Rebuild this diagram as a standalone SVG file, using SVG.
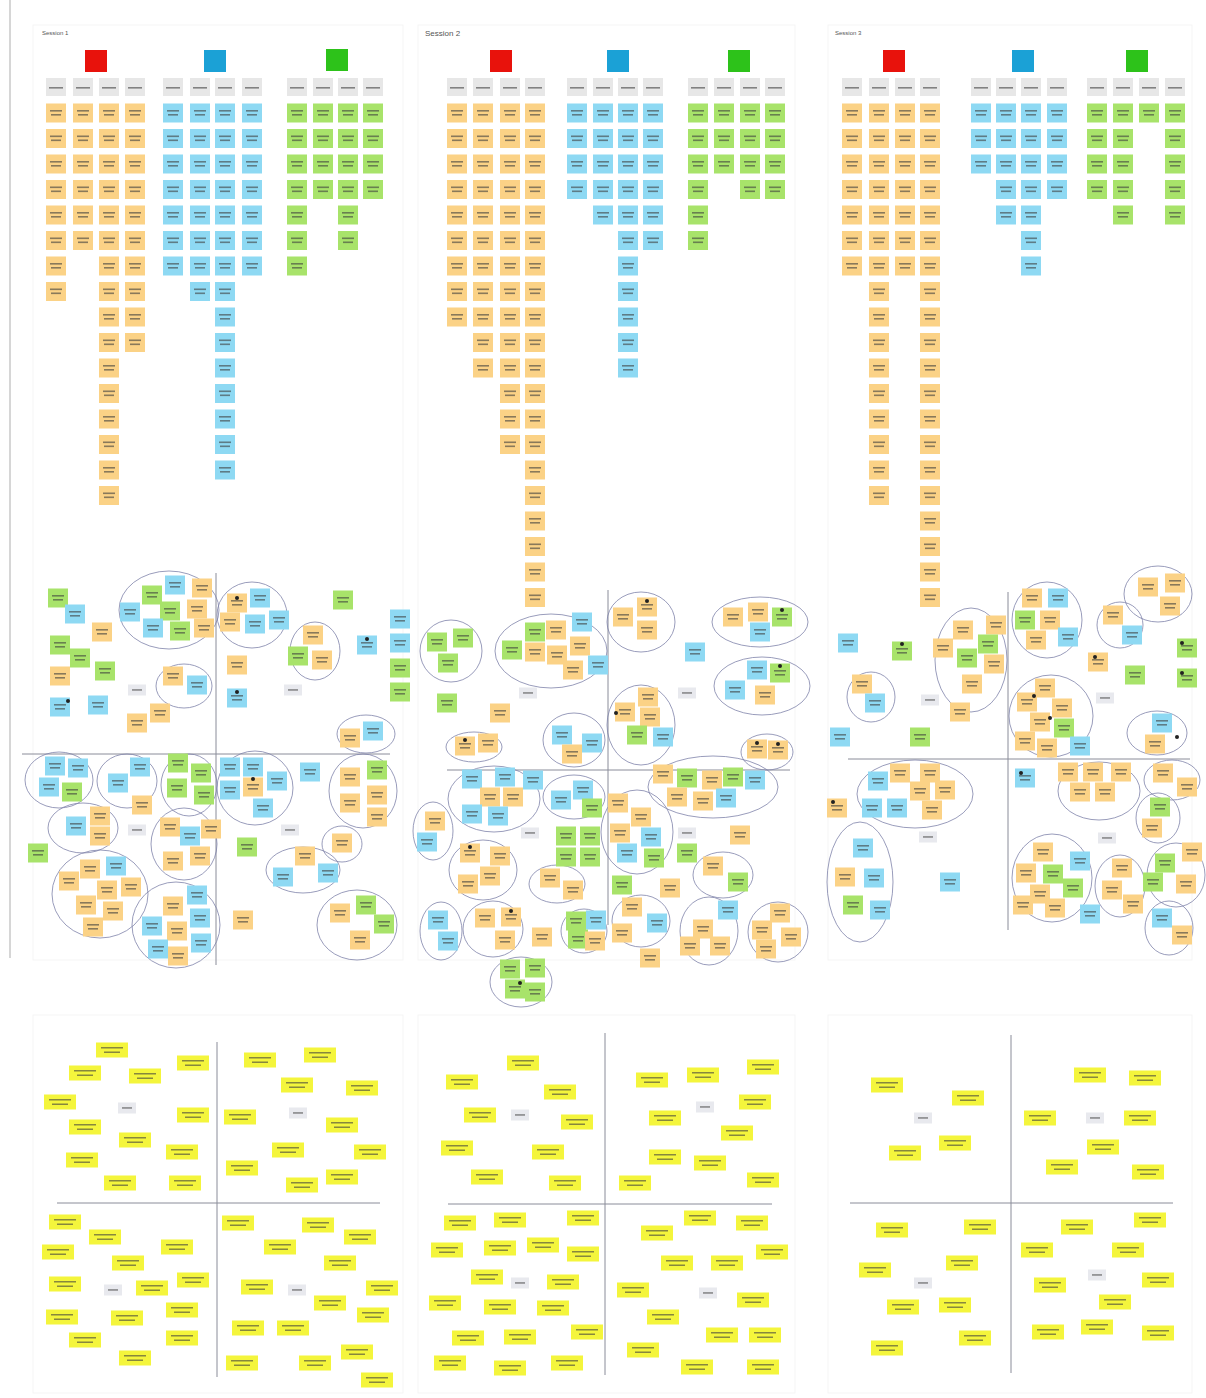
<svg xmlns="http://www.w3.org/2000/svg" xmlns:xlink="http://www.w3.org/1999/xlink" width="1206" height="1398" viewBox="0 0 1206 1398">
<style>
.t{fill:#3d3d3d;opacity:.6}
.ax{stroke:#8a8c99;stroke-width:1}
.cl{fill:none;stroke:#7f83aa;stroke-width:.8}
.d{fill:#222}
.fr{fill:none;stroke:#f5f5f5;stroke-width:1}
.ttl{font-family:"Liberation Sans",Arial,sans-serif;fill:#555}
</style>
<defs>
<g id="o"><rect x="-10" y="-9.5" width="20" height="19" fill="#FBD286"/><rect class="t" x="-6" y="-3" width="12" height="1.6"/><rect class="t" x="-5" y="1" width="10" height="1.6"/></g>
<g id="b"><rect x="-10" y="-9.5" width="20" height="19" fill="#8ED9F3"/><rect class="t" x="-6" y="-3" width="12" height="1.6"/><rect class="t" x="-5" y="1" width="10" height="1.6"/></g>
<g id="g"><rect x="-10" y="-9.5" width="20" height="19" fill="#A8E36A"/><rect class="t" x="-6" y="-3" width="12" height="1.6"/><rect class="t" x="-5" y="1" width="10" height="1.6"/></g>
<g id="y"><rect x="-16" y="-7.5" width="32" height="15" fill="#F4F53C"/><rect class="t" x="-11" y="-3" width="22" height="1.5"/><rect class="t" x="-8" y="1.5" width="16" height="1.5"/></g>
<g id="l"><rect x="-9" y="-5.5" width="18" height="11" fill="#E8E9EE"/><rect class="t" x="-5" y="-.8" width="10" height="1.5"/></g>
<g id="h"><rect x="-10" y="-9" width="20" height="18" fill="#E7E7E7"/><rect class="t" x="-7" y="0" width="14" height="1.6"/></g>
</defs>
<rect width="1206" height="1398" fill="#fff"/>
<line x1="10" y1="0" x2="10" y2="958" stroke="#d6d6d6" stroke-width="2"/>
<g id="frames">
<rect class="fr" x="33" y="25" width="370" height="935"/>
<rect class="fr" x="418" y="25" width="377" height="935"/>
<rect class="fr" x="828" y="25" width="364" height="935"/>
<rect class="fr" x="33" y="1015" width="370" height="378"/>
<rect class="fr" x="418" y="1015" width="377" height="378"/>
<rect class="fr" x="828" y="1015" width="364" height="378"/>
</g>
<g id="titles">
<text class="ttl" x="42" y="35" font-size="6">Session 1</text>
<text class="ttl" x="425" y="36" font-size="8">Session 2</text>
<text class="ttl" x="835" y="35" font-size="6">Session 3</text>
</g>

<!-- ============ TOP GRIDS ============ -->
<g id="p1-top">
<rect x="85" y="50" width="22" height="22" fill="#E8120C"/>
<rect x="204" y="50" width="22" height="22" fill="#1BA1D6"/>
<rect x="326" y="49" width="22" height="22" fill="#2DC21A"/>
<g id="p1-hdr"><use href="#h" x="56" y="87"/><use href="#h" x="83" y="87"/><use href="#h" x="109" y="87"/><use href="#h" x="135" y="87"/><use href="#h" x="173" y="87"/><use href="#h" x="200" y="87"/><use href="#h" x="225" y="87"/><use href="#h" x="252" y="87"/><use href="#h" x="297" y="87"/><use href="#h" x="323" y="87"/><use href="#h" x="348" y="87"/><use href="#h" x="373" y="87"/></g>
<g id="p1-o1" transform="translate(56 0)"><use href="#o" y="113"/><use href="#o" y="138.5"/><use href="#o" y="164"/><use href="#o" y="189.5"/><use href="#o" y="215"/><use href="#o" y="240.5"/><use href="#o" y="266"/><use href="#o" y="291.5"/></g>
<g id="p1-o2" transform="translate(83 0)"><use href="#o" y="113"/><use href="#o" y="138.5"/><use href="#o" y="164"/><use href="#o" y="189.5"/><use href="#o" y="215"/><use href="#o" y="240.5"/></g>
<g id="p1-o3" transform="translate(109 0)"><use href="#o" y="113"/><use href="#o" y="138.5"/><use href="#o" y="164"/><use href="#o" y="189.5"/><use href="#o" y="215"/><use href="#o" y="240.5"/><use href="#o" y="266"/><use href="#o" y="291.5"/><use href="#o" y="317"/><use href="#o" y="342.5"/><use href="#o" y="368"/><use href="#o" y="393.5"/><use href="#o" y="419"/><use href="#o" y="444.5"/><use href="#o" y="470"/><use href="#o" y="495.5"/></g>
<g id="p1-o4" transform="translate(135 0)"><use href="#o" y="113"/><use href="#o" y="138.5"/><use href="#o" y="164"/><use href="#o" y="189.5"/><use href="#o" y="215"/><use href="#o" y="240.5"/><use href="#o" y="266"/><use href="#o" y="291.5"/><use href="#o" y="317"/><use href="#o" y="342.5"/></g>
<g id="p1-b1" transform="translate(173 0)"><use href="#b" y="113"/><use href="#b" y="138.5"/><use href="#b" y="164"/><use href="#b" y="189.5"/><use href="#b" y="215"/><use href="#b" y="240.5"/><use href="#b" y="266"/></g>
<g id="p1-b2" transform="translate(200 0)"><use href="#b" y="113"/><use href="#b" y="138.5"/><use href="#b" y="164"/><use href="#b" y="189.5"/><use href="#b" y="215"/><use href="#b" y="240.5"/><use href="#b" y="266"/><use href="#b" y="291.5"/></g>
<g id="p1-b3" transform="translate(225 0)"><use href="#b" y="113"/><use href="#b" y="138.5"/><use href="#b" y="164"/><use href="#b" y="189.5"/><use href="#b" y="215"/><use href="#b" y="240.5"/><use href="#b" y="266"/><use href="#b" y="291.5"/><use href="#b" y="317"/><use href="#b" y="342.5"/><use href="#b" y="368"/><use href="#b" y="393.5"/><use href="#b" y="419"/><use href="#b" y="444.5"/><use href="#b" y="470"/></g>
<g id="p1-b4" transform="translate(252 0)"><use href="#b" y="113"/><use href="#b" y="138.5"/><use href="#b" y="164"/><use href="#b" y="189.5"/><use href="#b" y="215"/><use href="#b" y="240.5"/><use href="#b" y="266"/></g>
<g id="p1-g1" transform="translate(297 0)"><use href="#g" y="113"/><use href="#g" y="138.5"/><use href="#g" y="164"/><use href="#g" y="189.5"/><use href="#g" y="215"/><use href="#g" y="240.5"/><use href="#g" y="266"/></g>
<g id="p1-g2" transform="translate(323 0)"><use href="#g" y="113"/><use href="#g" y="138.5"/><use href="#g" y="164"/><use href="#g" y="189.5"/></g>
<g id="p1-g3" transform="translate(348 0)"><use href="#g" y="113"/><use href="#g" y="138.5"/><use href="#g" y="164"/><use href="#g" y="189.5"/><use href="#g" y="215"/><use href="#g" y="240.5"/></g>
<g id="p1-g4" transform="translate(373 0)"><use href="#g" y="113"/><use href="#g" y="138.5"/><use href="#g" y="164"/><use href="#g" y="189.5"/></g>
</g>

<g id="p2-top">
<rect x="490" y="50" width="22" height="22" fill="#E8120C"/>
<rect x="607" y="50" width="22" height="22" fill="#1BA1D6"/>
<rect x="728" y="50" width="22" height="22" fill="#2DC21A"/>
<g id="p2-hdr"><use href="#h" x="457" y="87"/><use href="#h" x="483" y="87"/><use href="#h" x="510" y="87"/><use href="#h" x="535" y="87"/><use href="#h" x="577" y="87"/><use href="#h" x="603" y="87"/><use href="#h" x="628" y="87"/><use href="#h" x="653" y="87"/><use href="#h" x="698" y="87"/><use href="#h" x="724" y="87"/><use href="#h" x="750" y="87"/><use href="#h" x="775" y="87"/></g>
<g id="p2-o1" transform="translate(457 0)"><use href="#o" y="113"/><use href="#o" y="138.5"/><use href="#o" y="164"/><use href="#o" y="189.5"/><use href="#o" y="215"/><use href="#o" y="240.5"/><use href="#o" y="266"/><use href="#o" y="291.5"/><use href="#o" y="317"/></g>
<g id="p2-o2" transform="translate(483 0)"><use href="#o" y="113"/><use href="#o" y="138.5"/><use href="#o" y="164"/><use href="#o" y="189.5"/><use href="#o" y="215"/><use href="#o" y="240.5"/><use href="#o" y="266"/><use href="#o" y="291.5"/><use href="#o" y="317"/><use href="#o" y="342.5"/><use href="#o" y="368"/></g>
<g id="p2-o3" transform="translate(510 0)"><use href="#o" y="113"/><use href="#o" y="138.5"/><use href="#o" y="164"/><use href="#o" y="189.5"/><use href="#o" y="215"/><use href="#o" y="240.5"/><use href="#o" y="266"/><use href="#o" y="291.5"/><use href="#o" y="317"/><use href="#o" y="342.5"/><use href="#o" y="368"/><use href="#o" y="393.5"/><use href="#o" y="419"/><use href="#o" y="444.5"/></g>
<g id="p2-o4" transform="translate(535 0)"><use href="#o" y="113"/><use href="#o" y="138.5"/><use href="#o" y="164"/><use href="#o" y="189.5"/><use href="#o" y="215"/><use href="#o" y="240.5"/><use href="#o" y="266"/><use href="#o" y="291.5"/><use href="#o" y="317"/><use href="#o" y="342.5"/><use href="#o" y="368"/><use href="#o" y="393.5"/><use href="#o" y="419"/><use href="#o" y="444.5"/><use href="#o" y="470"/><use href="#o" y="495.5"/><use href="#o" y="521"/><use href="#o" y="546.5"/><use href="#o" y="572"/><use href="#o" y="597.5"/></g>
<g id="p2-b1" transform="translate(577 0)"><use href="#b" y="113"/><use href="#b" y="138.5"/><use href="#b" y="164"/><use href="#b" y="189.5"/></g>
<g id="p2-b2" transform="translate(603 0)"><use href="#b" y="113"/><use href="#b" y="138.5"/><use href="#b" y="164"/><use href="#b" y="189.5"/><use href="#b" y="215"/></g>
<g id="p2-b3" transform="translate(628 0)"><use href="#b" y="113"/><use href="#b" y="138.5"/><use href="#b" y="164"/><use href="#b" y="189.5"/><use href="#b" y="215"/><use href="#b" y="240.5"/><use href="#b" y="266"/><use href="#b" y="291.5"/><use href="#b" y="317"/><use href="#b" y="342.5"/><use href="#b" y="368"/></g>
<g id="p2-b4" transform="translate(653 0)"><use href="#b" y="113"/><use href="#b" y="138.5"/><use href="#b" y="164"/><use href="#b" y="189.5"/><use href="#b" y="215"/><use href="#b" y="240.5"/></g>
<g id="p2-g1" transform="translate(698 0)"><use href="#g" y="113"/><use href="#g" y="138.5"/><use href="#g" y="164"/><use href="#g" y="189.5"/><use href="#g" y="215"/><use href="#g" y="240.5"/></g>
<g id="p2-g2" transform="translate(724 0)"><use href="#g" y="113"/><use href="#g" y="138.5"/><use href="#g" y="164"/></g>
<g id="p2-g3" transform="translate(750 0)"><use href="#g" y="113"/><use href="#g" y="138.5"/><use href="#g" y="164"/><use href="#g" y="189.5"/></g>
<g id="p2-g4" transform="translate(775 0)"><use href="#g" y="113"/><use href="#g" y="138.5"/><use href="#g" y="164"/><use href="#g" y="189.5"/></g>
</g>

<g id="p3-top">
<rect x="883" y="50" width="22" height="22" fill="#E8120C"/>
<rect x="1012" y="50" width="22" height="22" fill="#1BA1D6"/>
<rect x="1126" y="50" width="22" height="22" fill="#2DC21A"/>
<g id="p3-hdr"><use href="#h" x="852" y="87"/><use href="#h" x="879" y="87"/><use href="#h" x="905" y="87"/><use href="#h" x="930" y="87"/><use href="#h" x="981" y="87"/><use href="#h" x="1006" y="87"/><use href="#h" x="1031" y="87"/><use href="#h" x="1057" y="87"/><use href="#h" x="1097" y="87"/><use href="#h" x="1123" y="87"/><use href="#h" x="1149" y="87"/><use href="#h" x="1175" y="87"/></g>
<g id="p3-o1" transform="translate(852 0)"><use href="#o" y="113"/><use href="#o" y="138.5"/><use href="#o" y="164"/><use href="#o" y="189.5"/><use href="#o" y="215"/><use href="#o" y="240.5"/><use href="#o" y="266"/></g>
<g id="p3-o2" transform="translate(879 0)"><use href="#o" y="113"/><use href="#o" y="138.5"/><use href="#o" y="164"/><use href="#o" y="189.5"/><use href="#o" y="215"/><use href="#o" y="240.5"/><use href="#o" y="266"/><use href="#o" y="291.5"/><use href="#o" y="317"/><use href="#o" y="342.5"/><use href="#o" y="368"/><use href="#o" y="393.5"/><use href="#o" y="419"/><use href="#o" y="444.5"/><use href="#o" y="470"/><use href="#o" y="495.5"/></g>
<g id="p3-o3" transform="translate(905 0)"><use href="#o" y="113"/><use href="#o" y="138.5"/><use href="#o" y="164"/><use href="#o" y="189.5"/><use href="#o" y="215"/><use href="#o" y="240.5"/><use href="#o" y="266"/></g>
<g id="p3-o4" transform="translate(930 0)"><use href="#o" y="113"/><use href="#o" y="138.5"/><use href="#o" y="164"/><use href="#o" y="189.5"/><use href="#o" y="215"/><use href="#o" y="240.5"/><use href="#o" y="266"/><use href="#o" y="291.5"/><use href="#o" y="317"/><use href="#o" y="342.5"/><use href="#o" y="368"/><use href="#o" y="393.5"/><use href="#o" y="419"/><use href="#o" y="444.5"/><use href="#o" y="470"/><use href="#o" y="495.5"/><use href="#o" y="521"/><use href="#o" y="546.5"/><use href="#o" y="572"/><use href="#o" y="597.5"/></g>
<g id="p3-b1" transform="translate(981 0)"><use href="#b" y="113"/><use href="#b" y="138.5"/><use href="#b" y="164"/></g>
<g id="p3-b2" transform="translate(1006 0)"><use href="#b" y="113"/><use href="#b" y="138.5"/><use href="#b" y="164"/><use href="#b" y="189.5"/><use href="#b" y="215"/></g>
<g id="p3-b3" transform="translate(1031 0)"><use href="#b" y="113"/><use href="#b" y="138.5"/><use href="#b" y="164"/><use href="#b" y="189.5"/><use href="#b" y="215"/><use href="#b" y="240.5"/><use href="#b" y="266"/></g>
<g id="p3-b4" transform="translate(1057 0)"><use href="#b" y="113"/><use href="#b" y="138.5"/><use href="#b" y="164"/><use href="#b" y="189.5"/></g>
<g id="p3-g1" transform="translate(1097 0)"><use href="#g" y="113"/><use href="#g" y="138.5"/><use href="#g" y="164"/><use href="#g" y="189.5"/></g>
<g id="p3-g2" transform="translate(1123 0)"><use href="#g" y="113"/><use href="#g" y="138.5"/><use href="#g" y="164"/><use href="#g" y="189.5"/><use href="#g" y="215"/></g>
<g id="p3-g3" transform="translate(1149 0)"><use href="#g" y="113"/></g>
<g id="p3-g4" transform="translate(1175 0)"><use href="#g" y="113"/><use href="#g" y="138.5"/><use href="#g" y="164"/><use href="#g" y="189.5"/><use href="#g" y="215"/></g>
</g>

<!-- ============ AXES ============ -->
<g id="axes" class="ax">
<line x1="22" y1="754" x2="390" y2="754"/><line x1="216" y1="573" x2="216" y2="965"/>
<line x1="447" y1="770" x2="790" y2="770"/><line x1="608" y1="590" x2="608" y2="925"/>
<line x1="848" y1="759" x2="1190" y2="759"/><line x1="1008" y1="592" x2="1008" y2="930"/>
<line x1="57" y1="1203" x2="380" y2="1203"/><line x1="217" y1="1042" x2="217" y2="1377"/>
<line x1="448" y1="1204" x2="772" y2="1204"/><line x1="605" y1="1033" x2="605" y2="1375"/>
<line x1="850" y1="1203" x2="1173" y2="1203"/><line x1="1011" y1="1035" x2="1011" y2="1373"/>
</g>

<!-- ============ PANEL 1 MIDDLE ============ -->
<g id="p1-mid">
<g id="p1-c1"><ellipse class="cl" cx="169" cy="610" rx="50" ry="39"/><use href="#b" x="175" y="585"/><use href="#o" x="202" y="588"/><use href="#g" x="152" y="595"/><use href="#b" x="130" y="612"/><use href="#g" x="170" y="611"/><use href="#o" x="197" y="609"/><use href="#b" x="153" y="628"/><use href="#g" x="180" y="631"/><use href="#o" x="204" y="628"/></g>
<g id="p1-c2"><ellipse class="cl" cx="252" cy="615" rx="35" ry="33"/><use href="#o" x="237" y="603"/><circle class="d" cx="237" cy="598" r="2"/><use href="#b" x="260" y="598"/><use href="#o" x="230" y="622"/><use href="#b" x="255" y="624"/><use href="#b" x="279" y="620"/></g>
<g id="p1-c3"><ellipse class="cl" cx="315" cy="651" rx="25" ry="29"/><use href="#o" x="313" y="635"/><use href="#g" x="298" y="656"/><use href="#o" x="322" y="660"/></g>
<g id="p1-c4"><ellipse class="cl" cx="184" cy="686" rx="28" ry="22"/><use href="#o" x="173" y="676"/><use href="#b" x="197" y="685"/></g>
<g id="p1-c5"><ellipse class="cl" cx="366" cy="734" rx="29" ry="19"/><use href="#o" x="350" y="738"/><use href="#b" x="373" y="731"/></g>
<g id="p1-c6"><ellipse class="cl" cx="59" cy="780" rx="34" ry="28"/><use href="#b" x="55" y="766"/><use href="#b" x="78" y="768"/><use href="#b" x="49" y="787"/><use href="#g" x="72" y="792"/></g>
<g id="p1-c7"><ellipse class="cl" cx="127" cy="781" rx="30" ry="27"/><use href="#b" x="140" y="767"/><use href="#b" x="118" y="783"/></g>
<g id="p1-c8"><ellipse class="cl" cx="189" cy="785" rx="28" ry="31"/><use href="#g" x="178" y="763"/><use href="#g" x="201" y="773"/><use href="#g" x="177" y="788"/><use href="#g" x="204" y="795"/></g>
<g id="p1-c9"><ellipse class="cl" cx="255" cy="788" rx="38" ry="37"/><use href="#b" x="230" y="767"/><use href="#b" x="253" y="767"/><use href="#o" x="253" y="787"/><circle class="d" cx="253" cy="779" r="2"/><use href="#b" x="277" y="781"/><use href="#b" x="230" y="790"/><use href="#b" x="263" y="808"/></g>
<g id="p1-c10"><ellipse class="cl" cx="363" cy="791" rx="34" ry="37"/><use href="#o" x="350" y="777"/><use href="#g" x="377" y="770"/><use href="#o" x="350" y="803"/><use href="#o" x="377" y="795"/><use href="#o" x="377" y="817"/></g>
<g id="p1-c11"><ellipse class="cl" cx="83" cy="828" rx="35" ry="25"/><use href="#b" x="76" y="826"/><use href="#o" x="100" y="816"/><use href="#o" x="100" y="836"/></g>
<g id="p1-c12"><ellipse class="cl" cx="184" cy="844" rx="33" ry="36"/><use href="#o" x="170" y="827"/><use href="#b" x="190" y="836"/><use href="#o" x="211" y="829"/><use href="#o" x="173" y="861"/><use href="#o" x="200" y="856"/></g>
<g id="p1-c13"><ellipse class="cl" cx="342" cy="844" rx="20" ry="18"/><use href="#o" x="342" y="843"/></g>
<g id="p1-c14"><ellipse class="cl" cx="303" cy="870" rx="37" ry="23"/><use href="#o" x="305" y="856"/><use href="#b" x="283" y="877"/><use href="#b" x="328" y="873"/></g>
<g id="p1-c15"><ellipse class="cl" cx="100" cy="894" rx="48" ry="44"/><use href="#o" x="90" y="869"/><use href="#b" x="116" y="866"/><use href="#o" x="69" y="881"/><use href="#o" x="107" y="890"/><use href="#o" x="131" y="887"/><use href="#o" x="86" y="905"/><use href="#o" x="113" y="911"/><use href="#o" x="93" y="927"/></g>
<g id="p1-c16"><ellipse class="cl" cx="176" cy="925" rx="44" ry="43"/><use href="#b" x="197" y="895"/><use href="#o" x="173" y="906"/><use href="#b" x="200" y="918"/><use href="#b" x="152" y="926"/><use href="#o" x="177" y="931"/><use href="#b" x="158" y="949"/><use href="#o" x="178" y="956"/><use href="#b" x="201" y="943"/></g>
<g id="p1-c17"><ellipse class="cl" cx="357" cy="925" rx="40" ry="35"/><use href="#o" x="340" y="913"/><use href="#g" x="366" y="905"/><use href="#g" x="384" y="924"/><use href="#o" x="360" y="940"/></g>
<g id="p1-loose"><use href="#g" x="58" y="598"/><use href="#b" x="75" y="614"/><use href="#o" x="102" y="632"/><use href="#g" x="60" y="645"/><use href="#g" x="80" y="658"/><use href="#g" x="105" y="671"/><use href="#o" x="60" y="676"/><use href="#b" x="60" y="707"/><circle class="d" cx="68" cy="701" r="2"/><use href="#b" x="98" y="705"/><use href="#l" x="137" y="690"/><use href="#o" x="137" y="723"/><use href="#o" x="160" y="713"/><use href="#o" x="237" y="665"/><use href="#b" x="237" y="698"/><circle class="d" cx="237" cy="692" r="2"/><use href="#l" x="293" y="690"/><use href="#g" x="343" y="600"/><use href="#b" x="367" y="645"/><circle class="d" cx="367" cy="639" r="2"/><use href="#b" x="400" y="619"/><use href="#b" x="400" y="643"/><use href="#g" x="400" y="668"/><use href="#g" x="400" y="692"/><use href="#g" x="38" y="853"/><use href="#l" x="137" y="830"/><use href="#g" x="247" y="847"/><use href="#l" x="290" y="830"/><use href="#o" x="243" y="920"/><use href="#o" x="142" y="805"/><use href="#b" x="310" y="772"/></g>
</g>

<!-- ============ PANEL 2 MIDDLE ============ -->
<g id="p2-mid">
<g id="p2-c1"><ellipse class="cl" cx="451" cy="651" rx="31" ry="31"/><use href="#g" x="437" y="642"/><use href="#g" x="463" y="638"/><use href="#g" x="448" y="663"/></g>
<g id="p2-c2"><ellipse class="cl" cx="551" cy="651" rx="56" ry="37"/><use href="#g" x="535" y="632"/><use href="#o" x="556" y="630"/><use href="#b" x="582" y="622"/><use href="#g" x="512" y="650"/><use href="#o" x="535" y="652"/><use href="#o" x="557" y="655"/><use href="#o" x="580" y="646"/><use href="#o" x="573" y="670"/><use href="#b" x="598" y="665"/></g>
<g id="p2-c3"><ellipse class="cl" cx="641" cy="622" rx="34" ry="30"/><use href="#o" x="623" y="617"/><use href="#o" x="647" y="607"/><circle class="d" cx="647" cy="601" r="2"/><use href="#o" x="647" y="630"/></g>
<g id="p2-c4"><ellipse class="cl" cx="760" cy="622" rx="48" ry="25"/><use href="#o" x="733" y="617"/><use href="#o" x="758" y="612"/><use href="#g" x="782" y="617"/><circle class="d" cx="782" cy="610" r="2"/><use href="#b" x="760" y="632"/></g>
<g id="p2-c5"><ellipse class="cl" cx="762" cy="686" rx="48" ry="29"/><use href="#b" x="757" y="670"/><use href="#g" x="780" y="673"/><circle class="d" cx="780" cy="666" r="2"/><use href="#b" x="735" y="690"/><use href="#o" x="765" y="695"/></g>
<g id="p2-c6"><ellipse class="cl" cx="641" cy="725" rx="34" ry="40"/><use href="#o" x="648" y="697"/><use href="#o" x="625" y="712"/><circle class="d" cx="616" cy="713" r="2"/><use href="#o" x="650" y="717"/><use href="#g" x="637" y="735"/><use href="#b" x="663" y="737"/></g>
<g id="p2-c7"><ellipse class="cl" cx="574" cy="740" rx="31" ry="27"/><use href="#b" x="562" y="735"/><use href="#b" x="592" y="743"/><use href="#o" x="572" y="754"/></g>
<g id="p2-c8"><ellipse class="cl" cx="474" cy="747" rx="28" ry="15"/><use href="#o" x="465" y="746"/><circle class="d" cx="465" cy="740" r="2"/><use href="#o" x="488" y="743"/></g>
<g id="p2-c9"><ellipse class="cl" cx="767" cy="752" rx="26" ry="18"/><use href="#o" x="757" y="749"/><circle class="d" cx="757" cy="743" r="2"/><use href="#o" x="778" y="750"/><circle class="d" cx="778" cy="744" r="2"/></g>
<g id="p2-c10"><ellipse class="cl" cx="713" cy="787" rx="65" ry="31"/><use href="#o" x="663" y="774"/><use href="#g" x="687" y="778"/><use href="#o" x="712" y="780"/><use href="#g" x="733" y="777"/><use href="#b" x="755" y="780"/><use href="#o" x="677" y="797"/><use href="#o" x="703" y="801"/><use href="#b" x="726" y="798"/></g>
<g id="p2-c11"><ellipse class="cl" cx="494" cy="799" rx="46" ry="33"/><use href="#b" x="472" y="779"/><use href="#b" x="505" y="777"/><use href="#b" x="533" y="780"/><use href="#o" x="490" y="797"/><use href="#o" x="513" y="797"/><use href="#b" x="472" y="814"/><use href="#b" x="498" y="816"/></g>
<g id="p2-c12"><ellipse class="cl" cx="574" cy="797" rx="31" ry="22"/><use href="#b" x="583" y="790"/><use href="#b" x="561" y="800"/><use href="#g" x="592" y="808"/></g>
<g id="p2-c13"><ellipse class="cl" cx="433" cy="831" rx="20" ry="29"/><use href="#o" x="435" y="821"/><use href="#b" x="427" y="842"/></g>
<g id="p2-c14"><ellipse class="cl" cx="637" cy="832" rx="36" ry="42"/><use href="#o" x="618" y="803"/><use href="#o" x="641" y="817"/><use href="#o" x="620" y="833"/><use href="#b" x="651" y="837"/><use href="#b" x="627" y="853"/><use href="#g" x="654" y="858"/></g>
<g id="p2-c15"><ellipse class="cl" cx="483" cy="870" rx="34" ry="30"/><use href="#o" x="470" y="853"/><circle class="d" cx="470" cy="847" r="2"/><use href="#o" x="500" y="856"/><use href="#o" x="490" y="876"/><use href="#o" x="468" y="884"/></g>
<g id="p2-c16"><ellipse class="cl" cx="557" cy="884" rx="28" ry="19"/><use href="#o" x="550" y="878"/><use href="#o" x="573" y="890"/></g>
<g id="p2-c17"><ellipse class="cl" cx="723" cy="875" rx="30" ry="23"/><use href="#o" x="713" y="866"/><use href="#g" x="738" y="882"/></g>
<g id="p2-c18"><ellipse class="cl" cx="441" cy="931" rx="21" ry="29"/><use href="#b" x="438" y="920"/><use href="#b" x="448" y="941"/></g>
<g id="p2-c19"><ellipse class="cl" cx="493" cy="929" rx="30" ry="28"/><use href="#o" x="485" y="918"/><use href="#o" x="511" y="917"/><circle class="d" cx="511" cy="911" r="2"/><use href="#o" x="505" y="940"/></g>
<g id="p2-c20"><ellipse class="cl" cx="584" cy="931" rx="23" ry="22"/><use href="#g" x="576" y="921"/><use href="#b" x="596" y="920"/><use href="#g" x="578" y="939"/><use href="#o" x="595" y="941"/></g>
<g id="p2-c21"><ellipse class="cl" cx="641" cy="921" rx="29" ry="26"/><use href="#o" x="632" y="907"/><use href="#b" x="657" y="923"/><use href="#o" x="622" y="933"/></g>
<g id="p2-c22"><ellipse class="cl" cx="709" cy="931" rx="29" ry="34"/><use href="#b" x="728" y="910"/><use href="#o" x="703" y="929"/><use href="#o" x="690" y="946"/><use href="#o" x="720" y="946"/></g>
<g id="p2-c23"><ellipse class="cl" cx="778" cy="932" rx="30" ry="30"/><use href="#o" x="780" y="913"/><use href="#o" x="762" y="930"/><use href="#o" x="791" y="937"/><use href="#o" x="766" y="949"/></g>
<g id="p2-c24"><ellipse class="cl" cx="521" cy="982" rx="31" ry="25"/><use href="#g" x="510" y="969"/><use href="#g" x="535" y="968"/><use href="#g" x="515" y="989"/><circle class="d" cx="520" cy="983" r="2"/><use href="#g" x="535" y="992"/></g>
<g id="p2-loose"><use href="#g" x="447" y="703"/><use href="#l" x="528" y="693"/><use href="#o" x="500" y="713"/><use href="#b" x="695" y="652"/><use href="#l" x="687" y="693"/><use href="#l" x="530" y="833"/><use href="#l" x="687" y="833"/><use href="#g" x="566" y="836"/><use href="#g" x="590" y="836"/><use href="#g" x="566" y="857"/><use href="#g" x="590" y="857"/><use href="#o" x="740" y="835"/><use href="#g" x="687" y="853"/><use href="#g" x="622" y="885"/><use href="#o" x="670" y="888"/><use href="#o" x="542" y="937"/><use href="#o" x="650" y="958"/></g>
</g>

<!-- ============ PANEL 3 MIDDLE ============ -->
<g id="p3-mid">
<g id="p3-c1"><ellipse class="cl" cx="1047" cy="620" rx="35" ry="38"/><use href="#o" x="1032" y="598"/><use href="#b" x="1058" y="598"/><use href="#g" x="1025" y="620"/><use href="#o" x="1050" y="620"/><use href="#o" x="1036" y="640"/><use href="#b" x="1068" y="637"/></g>
<g id="p3-c2"><ellipse class="cl" cx="1158" cy="594" rx="34" ry="28"/><use href="#o" x="1148" y="587"/><use href="#o" x="1175" y="583"/><use href="#o" x="1170" y="606"/></g>
<g id="p3-c3"><ellipse class="cl" cx="1120" cy="625" rx="23" ry="23"/><use href="#o" x="1113" y="615"/><use href="#b" x="1132" y="635"/></g>
<g id="p3-c4"><ellipse class="cl" cx="971" cy="660" rx="36" ry="52"/><use href="#o" x="963" y="630"/><use href="#o" x="996" y="625"/><use href="#o" x="943" y="648"/><use href="#g" x="967" y="658"/><use href="#g" x="988" y="644"/><use href="#o" x="994" y="664"/><use href="#o" x="972" y="684"/></g>
<g id="p3-c5"><ellipse class="cl" cx="871" cy="697" rx="24" ry="25"/><use href="#o" x="862" y="684"/><use href="#b" x="875" y="703"/></g>
<g id="p3-c6"><ellipse class="cl" cx="1051" cy="716" rx="42" ry="41"/><use href="#o" x="1045" y="688"/><use href="#o" x="1027" y="702"/><circle class="d" cx="1034" cy="696" r="2"/><use href="#o" x="1062" y="708"/><use href="#o" x="1040" y="722"/><circle class="d" cx="1050" cy="718" r="2"/><use href="#g" x="1064" y="728"/><use href="#o" x="1025" y="741"/><use href="#o" x="1047" y="748"/><use href="#b" x="1080" y="746"/></g>
<g id="p3-c7"><ellipse class="cl" cx="1157" cy="733" rx="30" ry="22"/><use href="#b" x="1162" y="723"/><use href="#o" x="1155" y="744"/><circle class="d" cx="1177" cy="737" r="2"/></g>
<g id="p3-c8"><ellipse class="cl" cx="915" cy="794" rx="58" ry="34"/><use href="#b" x="878" y="781"/><use href="#o" x="900" y="773"/><use href="#o" x="930" y="773"/><use href="#o" x="920" y="791"/><use href="#o" x="945" y="790"/><use href="#b" x="872" y="808"/><use href="#b" x="897" y="808"/><use href="#o" x="932" y="810"/></g>
<g id="p3-c9"><ellipse class="cl" cx="1099" cy="791" rx="41" ry="29"/><use href="#o" x="1068" y="772"/><use href="#o" x="1093" y="772"/><use href="#o" x="1121" y="772"/><use href="#o" x="1080" y="792"/><use href="#o" x="1105" y="792"/></g>
<g id="p3-c10"><ellipse class="cl" cx="1172" cy="780" rx="28" ry="20"/><use href="#o" x="1163" y="773"/><use href="#o" x="1187" y="787"/></g>
<g id="p3-c11"><ellipse class="cl" cx="1158" cy="818" rx="22" ry="25"/><use href="#g" x="1160" y="807"/><use href="#o" x="1152" y="828"/></g>
<g id="p3-c12"><ellipse class="cl" cx="860" cy="882" rx="33" ry="60"/><use href="#b" x="863" y="848"/><use href="#o" x="845" y="877"/><use href="#b" x="874" y="878"/><use href="#g" x="853" y="905"/><use href="#b" x="880" y="910"/></g>
<g id="p3-c13"><ellipse class="cl" cx="1052" cy="878" rx="40" ry="44"/><use href="#o" x="1043" y="852"/><use href="#o" x="1026" y="873"/><use href="#b" x="1080" y="861"/><use href="#g" x="1053" y="874"/><use href="#o" x="1040" y="894"/><use href="#g" x="1073" y="888"/><use href="#o" x="1023" y="905"/><use href="#o" x="1055" y="908"/></g>
<g id="p3-c14"><ellipse class="cl" cx="1120" cy="886" rx="25" ry="31"/><use href="#o" x="1122" y="868"/><use href="#o" x="1112" y="890"/><use href="#o" x="1133" y="904"/></g>
<g id="p3-c15"><ellipse class="cl" cx="1176" cy="875" rx="29" ry="32"/><use href="#o" x="1192" y="852"/><use href="#g" x="1165" y="863"/><use href="#g" x="1153" y="882"/><use href="#o" x="1186" y="884"/></g>
<g id="p3-c16"><ellipse class="cl" cx="1169" cy="928" rx="24" ry="27"/><use href="#b" x="1162" y="918"/><use href="#o" x="1182" y="935"/></g>
<g id="p3-loose"><use href="#b" x="848" y="643"/><use href="#g" x="902" y="651"/><circle class="d" cx="902" cy="644" r="2"/><use href="#l" x="930" y="700"/><use href="#b" x="840" y="737"/><use href="#g" x="920" y="737"/><use href="#o" x="960" y="712"/><use href="#o" x="1098" y="662"/><circle class="d" cx="1095" cy="657" r="2"/><use href="#g" x="1135" y="675"/><use href="#g" x="1187" y="648"/><circle class="d" cx="1182" cy="643" r="2"/><use href="#g" x="1187" y="678"/><circle class="d" cx="1182" cy="673" r="2"/><use href="#l" x="1105" y="698"/><use href="#o" x="837" y="808"/><circle class="d" cx="833" cy="802" r="2"/><use href="#l" x="928" y="837"/><use href="#b" x="1025" y="778"/><circle class="d" cx="1021" cy="773" r="2"/><use href="#l" x="1107" y="838"/><use href="#b" x="950" y="882"/><use href="#b" x="1090" y="914"/></g>
</g>

<!-- ============ BOTTOM ============ -->
<g id="p1-bot">
<use href="#y" x="112" y="1050"/><use href="#y" x="85" y="1073"/><use href="#y" x="145" y="1076"/><use href="#y" x="193" y="1063"/><use href="#y" x="60" y="1102"/><use href="#l" x="127" y="1108"/><use href="#y" x="193" y="1115"/><use href="#y" x="85" y="1127"/><use href="#y" x="135" y="1140"/><use href="#y" x="182" y="1152"/><use href="#y" x="82" y="1160"/><use href="#y" x="120" y="1183"/><use href="#y" x="185" y="1183"/>
<use href="#y" x="260" y="1060"/><use href="#y" x="320" y="1055"/><use href="#y" x="297" y="1085"/><use href="#y" x="362" y="1088"/><use href="#y" x="240" y="1117"/><use href="#l" x="298" y="1113"/><use href="#y" x="342" y="1125"/><use href="#y" x="288" y="1150"/><use href="#y" x="370" y="1152"/><use href="#y" x="242" y="1168"/><use href="#y" x="342" y="1177"/><use href="#y" x="302" y="1185"/>
<use href="#y" x="65" y="1222"/><use href="#y" x="105" y="1237"/><use href="#y" x="58" y="1252"/><use href="#y" x="177" y="1247"/><use href="#y" x="128" y="1263"/><use href="#y" x="65" y="1284"/><use href="#l" x="113" y="1290"/><use href="#y" x="152" y="1288"/><use href="#y" x="193" y="1280"/><use href="#y" x="62" y="1317"/><use href="#y" x="127" y="1318"/><use href="#y" x="182" y="1310"/><use href="#y" x="85" y="1340"/><use href="#y" x="135" y="1358"/><use href="#y" x="182" y="1338"/>
<use href="#y" x="238" y="1223"/><use href="#y" x="318" y="1225"/><use href="#y" x="360" y="1237"/><use href="#y" x="280" y="1247"/><use href="#y" x="340" y="1263"/><use href="#y" x="257" y="1287"/><use href="#l" x="297" y="1290"/><use href="#y" x="330" y="1303"/><use href="#y" x="382" y="1288"/><use href="#y" x="248" y="1328"/><use href="#y" x="293" y="1328"/><use href="#y" x="373" y="1315"/><use href="#y" x="242" y="1363"/><use href="#y" x="315" y="1363"/><use href="#y" x="357" y="1352"/><use href="#y" x="377" y="1380"/>
</g>
<g id="p2-bot">
<use href="#y" x="523" y="1063"/><use href="#y" x="462" y="1082"/><use href="#y" x="560" y="1092"/><use href="#y" x="480" y="1115"/><use href="#l" x="520" y="1115"/><use href="#y" x="577" y="1122"/><use href="#y" x="457" y="1148"/><use href="#y" x="548" y="1152"/><use href="#y" x="487" y="1177"/><use href="#y" x="565" y="1183"/>
<use href="#y" x="652" y="1080"/><use href="#y" x="703" y="1075"/><use href="#y" x="763" y="1067"/><use href="#l" x="705" y="1107"/><use href="#y" x="755" y="1102"/><use href="#y" x="665" y="1118"/><use href="#y" x="737" y="1133"/><use href="#y" x="665" y="1157"/><use href="#y" x="710" y="1163"/><use href="#y" x="635" y="1183"/><use href="#y" x="763" y="1180"/>
<use href="#y" x="460" y="1223"/><use href="#y" x="510" y="1220"/><use href="#y" x="583" y="1218"/><use href="#y" x="447" y="1250"/><use href="#y" x="500" y="1248"/><use href="#y" x="543" y="1245"/><use href="#y" x="583" y="1254"/><use href="#y" x="487" y="1277"/><use href="#l" x="520" y="1283"/><use href="#y" x="563" y="1282"/><use href="#y" x="445" y="1303"/><use href="#y" x="500" y="1307"/><use href="#y" x="553" y="1308"/><use href="#y" x="468" y="1338"/><use href="#y" x="520" y="1337"/><use href="#y" x="587" y="1332"/><use href="#y" x="450" y="1363"/><use href="#y" x="510" y="1368"/><use href="#y" x="567" y="1363"/>
<use href="#y" x="657" y="1233"/><use href="#y" x="700" y="1218"/><use href="#y" x="752" y="1223"/><use href="#y" x="772" y="1252"/><use href="#y" x="677" y="1263"/><use href="#y" x="727" y="1263"/><use href="#y" x="633" y="1290"/><use href="#l" x="708" y="1293"/><use href="#y" x="753" y="1300"/><use href="#y" x="663" y="1317"/><use href="#y" x="722" y="1335"/><use href="#y" x="765" y="1335"/><use href="#y" x="643" y="1350"/><use href="#y" x="697" y="1367"/><use href="#y" x="763" y="1367"/>
</g>
<g id="p3-bot">
<use href="#y" x="887" y="1085"/><use href="#y" x="968" y="1098"/><use href="#l" x="923" y="1118"/><use href="#y" x="955" y="1143"/><use href="#y" x="905" y="1153"/>
<use href="#y" x="1090" y="1075"/><use href="#y" x="1145" y="1078"/><use href="#y" x="1040" y="1118"/><use href="#l" x="1095" y="1118"/><use href="#y" x="1140" y="1118"/><use href="#y" x="1103" y="1147"/><use href="#y" x="1062" y="1167"/><use href="#y" x="1148" y="1172"/>
<use href="#y" x="892" y="1230"/><use href="#y" x="980" y="1227"/><use href="#y" x="875" y="1270"/><use href="#y" x="962" y="1263"/><use href="#l" x="923" y="1283"/><use href="#y" x="903" y="1307"/><use href="#y" x="955" y="1305"/><use href="#y" x="887" y="1348"/><use href="#y" x="975" y="1338"/>
<use href="#y" x="1077" y="1227"/><use href="#y" x="1150" y="1220"/><use href="#y" x="1037" y="1250"/><use href="#y" x="1128" y="1250"/><use href="#y" x="1050" y="1285"/><use href="#l" x="1097" y="1275"/><use href="#y" x="1158" y="1280"/><use href="#y" x="1115" y="1302"/><use href="#y" x="1048" y="1332"/><use href="#y" x="1097" y="1327"/><use href="#y" x="1158" y="1333"/>
</g>
</svg>
